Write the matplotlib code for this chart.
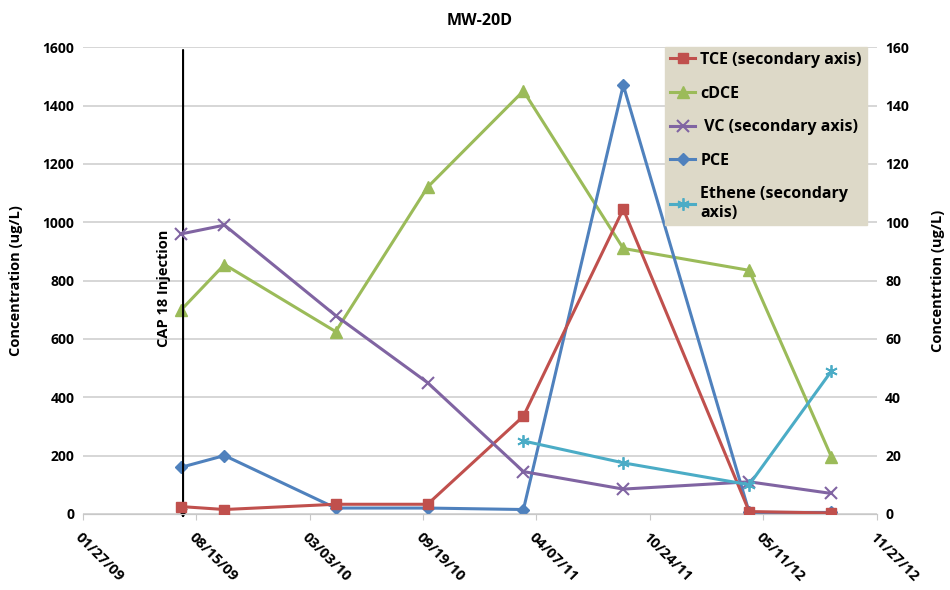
import numpy as np
import matplotlib
matplotlib.use('Agg')
import matplotlib.pyplot as plt
import matplotlib.dates as mdates

# sampling dates and concentrations
dates = ['2009-07-20', '2009-10-04', '2010-04-18', '2010-09-27',
         '2011-03-15', '2011-09-07', '2012-04-16', '2012-09-08']
cdce = [700, 855, 625, 1120, 1450, 910, 835, 195]
pce = [160, 200, 20, 20, 15, 1470, 5, 5]
tce = [2.5, 1.5, 3.3, 3.3, 33.5, 104.5, 0.8, 0.3]
vc = [96, 99, 68, 45, 14.5, 8.5, 11, 7]
etheneDates = dates[4:]
ethene = [25, 17.5, 10, 49]
injectionDate = '2009-07-23'
injectionLabel = 'CAP 18 Injection'
xStart = '2009-01-27'
tickStepDays = 200
tickCount = 8

plt.rcParams['font.family'] = ['Open Sans', 'DejaVu Sans']
plt.rcParams['font.weight'] = 'bold'

x = np.array(dates, dtype='datetime64[D]').astype('O')
xe = np.array(etheneDates, dtype='datetime64[D]').astype('O')
tickDates = (np.datetime64(xStart) + np.arange(tickCount) * tickStepDays).astype('O')

fig = plt.figure(figsize=(9.5, 5.9), dpi=100)
ax = fig.add_axes([0.087, 0.129, 0.836, 0.791])
ax2 = ax.twinx()

lw = 2.2
ax2.plot(x, tce, color='#c0504d', linewidth=lw, marker='s', markersize=7,
         label='TCE (secondary axis)', zorder=3)
ax.plot(x, cdce, color='#9bbb59', linewidth=lw, marker='^', markersize=8,
        label='cDCE', zorder=3)
ax2.plot(x, vc, color='#8064a2', linewidth=lw, marker='x', markersize=8,
         markeredgewidth=1.5, label=' VC (secondary axis)', zorder=3)
ax.plot(x, pce, color='#4f81bd', linewidth=lw, marker='D', markersize=6,
        label='PCE', zorder=3)
ax2.plot(xe, ethene, color='#4bacc6', linewidth=lw, marker=(6, 2, 0),
         markersize=9, markeredgewidth=1.3,
         label='Ethene (secondary\naxis)', zorder=3)

ax.set_xlim(tickDates[0], tickDates[-1])
ax.set_ylim(0, 1600)
ax2.set_ylim(0, 160)
ax.set_yticks(np.arange(0, 1601, 200))
ax2.set_yticks(np.arange(0, 161, 20))
ax.set_xticks(tickDates)
ax.xaxis.set_major_formatter(mdates.DateFormatter('%m/%d/%y'))
for lab in ax.get_xticklabels():
    lab.set_rotation(-45)
    lab.set_ha('left')
    lab.set_va('top')
    lab.set_rotation_mode('anchor')

ax.grid(axis='y', color='#d0d0d0', linewidth=1.2)
ax.set_axisbelow(True)
for a in (ax, ax2):
    for side in ('top', 'right', 'left'):
        a.spines[side].set_visible(False)
    a.spines['bottom'].set_color('#c8c8c8')
ax.tick_params(axis='x', length=4, color='#c8c8c8', labelsize=10.5, pad=8)
ax.tick_params(axis='y', length=0, labelsize=10, pad=6)
ax2.tick_params(axis='y', length=0, labelsize=10, pad=6)

ax.set_ylabel('Concentration (ug/L)', fontsize=10.5, fontweight='bold', labelpad=14)
ax2.set_ylabel('Concentrtion (ug/L)', fontsize=10.5, fontweight='bold', labelpad=16)
ax.set_title('MW-20D', fontsize=11.5, fontweight='bold', pad=16)

# injection marker
injX = np.datetime64(injectionDate).astype('O')
ax.annotate('', xy=(injX, -25), xytext=(injX, 1600),
            arrowprops=dict(arrowstyle='-|>', color='black', lw=1.5,
                            mutation_scale=12),
            annotation_clip=False, zorder=4)
ax.text(np.datetime64('2009-06-20').astype('O'), 775, injectionLabel,
        rotation=90, ha='center', va='center', fontsize=10.5,
        fontweight='bold')

h1, l1 = ax.get_legend_handles_labels()
h2, l2 = ax2.get_legend_handles_labels()
handles = [h2[0], h1[0], h2[1], h1[1], h2[2]]
labels = [l2[0], l1[0], l2[1], l1[1], l2[2]]
leg = ax2.legend(handles, labels, loc='upper right',
                 bbox_to_anchor=(0.987, 1.0), frameon=True, fancybox=False,
                 facecolor='#ddd9c8', edgecolor='#ddd9c8', framealpha=1,
                 fontsize=11.5, handlelength=1.6, handletextpad=0.3,
                 labelspacing=1.1, borderpad=0.3, borderaxespad=0)
leg.set_zorder(5)

fig.savefig('out.png', dpi=100)
